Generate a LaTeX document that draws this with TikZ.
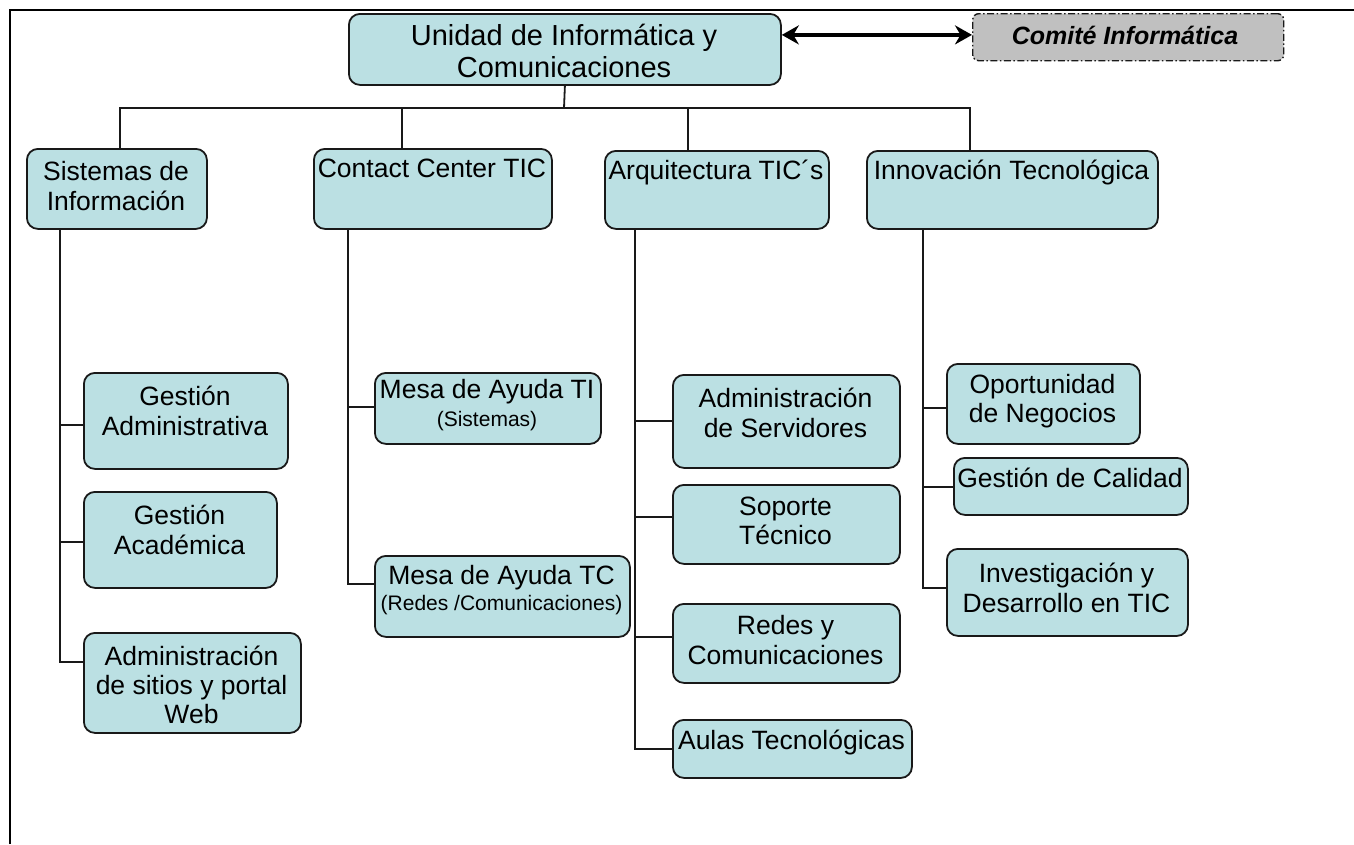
\documentclass[tikz,border=0pt]{standalone}
\usepackage{fontspec}
\setmainfont{Liberation Sans}
\usetikzlibrary{arrows.meta,calc}
\definecolor{boxfill}{RGB}{187,224,227}
\definecolor{comfill}{RGB}{192,192,192}
\definecolor{edge}{RGB}{25,25,25}
\tikzset{
  orgbox/.style={draw=edge, fill=boxfill, line width=1.8pt, rounded corners=11pt, inner sep=0pt, anchor=north west},
  lbl/.style={align=center, inner sep=0pt, font=\fontsize{26.5}{29.3}\selectfont},
  toplbl/.style={align=center, inner sep=0pt, font=\fontsize{29}{31.5}\selectfont},
  link/.style={draw=edge, line width=1.8pt},
  pageline/.style={draw=black, line width=2.6pt},
  combox/.style={draw=edge, fill=comfill, line width=1.4pt, rounded corners=6pt, inner sep=0pt, anchor=north west,
    dash pattern=on 7pt off 2.5pt on 1.5pt off 2.5pt},
  comlbl/.style={inner sep=0pt, font=\fontsize{25}{29}\selectfont\bfseries\itshape},
  dblarrow/.style={draw=black, line width=3.8pt, {Stealth[length=17pt,width=19pt]}-{Stealth[length=17pt,width=19pt]}},
}
% #1 name, #2 x1, #3 y1, #4 x2, #5 y2, #6 text centre y, #7 text
\newcommand{\orgnode}[7]{%
  \node[orgbox, minimum width={#4-#2}, minimum height={#5-#3}] (#1) at (#2,#3) {};
  \node[lbl] (#1t) at ({(#2+#4)/2},#6) {#7};
}
\begin{document}
\begin{tikzpicture}[x=1pt,y=-1pt]
\useasboundingbox (0,0) rectangle (1354,844);
\coordinate (pgbl) at (10,844);
\coordinate (pgtl) at (10,10);
\coordinate (pgtr) at (1354,10);
\draw[pageline] (pgbl) -- (pgtl) -- (pgtr);

% top
\node[orgbox, minimum width=432, minimum height=71] (top) at (348,13) {};
\node[toplbl] (topt) at (564,51) {Unidad de Informática y\\Comunicaciones};
\node[combox, minimum width=311, minimum height=47] (com) at (972,13) {};
\node[comlbl] (comt) at (1125,35) {Comité Informática};
\draw[dblarrow] ([yshift=14.5pt]top.east) -- ([yshift=14.5pt]top.east -| com.west);

% level 2
\orgnode{si}{26}{148}{206}{228}{186}{Sistemas de\\Información}
\orgnode{cc}{313}{148}{551}{228}{168}{Contact Center TIC}
\orgnode{ar}{604}{150}{828}{228}{172}{Arquitectura TIC´s}
\orgnode{in}{866}{150}{1157}{228}{172}{Innovación Tecnológica}

% level 3
\orgnode{ga}{83}{372}{287}{468}{411}{Gestión\\Administrativa}
\orgnode{gac}{83}{491}{276}{587}{530}{Gestión\\Académica}
\orgnode{ads}{83}{632}{300}{732}{685}{Administración\\de sitios y portal\\Web}

\orgnode{mti}{374}{372}{600}{443}{405}{Mesa de Ayuda TI\\[-1pt]{\fontsize{21}{24}\selectfont (Sistemas)}}
\orgnode{mtc}{374}{555}{629}{636}{590}{Mesa de Ayuda TC\\[-3pt]{\fontsize{21}{24}\selectfont(Redes /Comunicaciones)}}

\orgnode{as}{672}{374}{899}{467}{413}{Administración\\de Servidores}
\orgnode{st}{672}{484}{899}{563}{521}{Soporte\\Técnico}
\orgnode{rc}{672}{603}{899}{682}{640}{Redes y\\Comunicaciones}
\orgnode{at}{672}{719}{911}{777}{742}{Aulas Tecnológicas}

\orgnode{on}{946}{363}{1139}{443}{401}{Oportunidad\\de Negocios}
\orgnode{gc}{953}{457}{1187}{514}{478}{Gestión de Calidad}
\orgnode{id}{946}{548}{1187}{635}{588}{Investigación y\\Desarrollo en TIC}

% top to level 2
\coordinate (bus) at (564,108);
\draw[link] (top.south) -- (bus);
\draw[link] (bus) -| ([xshift=94pt]si.north west);
\draw[link] (bus) -| ([xshift=89pt]cc.north west);
\draw[link] (bus) -| ([xshift=84pt]ar.north west);
\draw[link] (bus) -| ([xshift=104pt]in.north west);

% level 2 to level 3
\draw[link] ([xshift=34pt]si.south west) |- ([yshift=-4pt]ga.west);
\draw[link] ([xshift=34pt]si.south west) |- ([yshift=-2pt]gac.west);
\draw[link] ([xshift=34pt]si.south west) |- ([yshift=21pt]ads.west);

\draw[link] ([xshift=35pt]cc.south west) |- ([yshift=1.5pt]mti.west);
\draw[link] ([xshift=35pt]cc.south west) |- ([yshift=12.5pt]mtc.west);

\draw[link] ([xshift=31pt]ar.south west) |- ([yshift=0.5pt]as.west);
\draw[link] ([xshift=31pt]ar.south west) |- ([yshift=7.5pt]st.west);
\draw[link] ([xshift=31pt]ar.south west) |- ([yshift=6.5pt]rc.west);
\draw[link] ([xshift=31pt]ar.south west) |- (at.west);

\draw[link] ([xshift=57pt]in.south west) |- ([yshift=-4pt]on.west);
\draw[link] ([xshift=57pt]in.south west) |- ([yshift=-0.5pt]gc.west);
\draw[link] ([xshift=57pt]in.south west) |- ([yshift=4.5pt]id.west);
\end{tikzpicture}
\end{document}
